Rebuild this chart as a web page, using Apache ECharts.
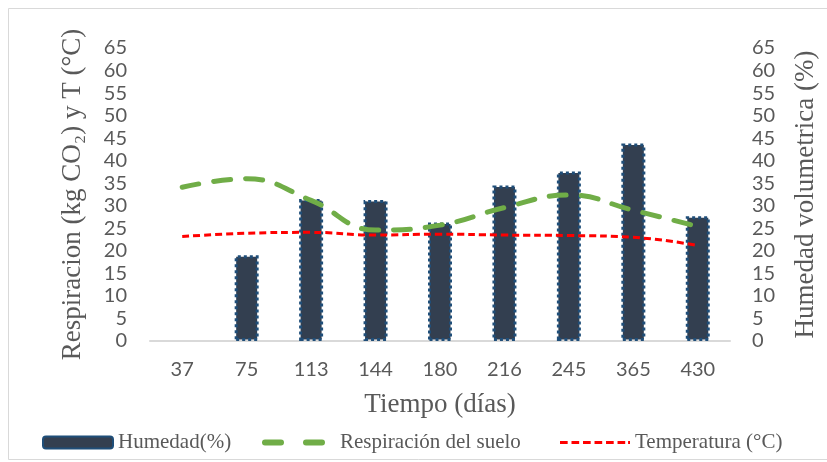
<!DOCTYPE html>
<html>
<head>
<meta charset="utf-8">
<script src="https://cdn.jsdelivr.net/npm/echarts@6/dist/echarts.min.js"></script>
<style>
  html, body { margin: 0; padding: 0; background: #ffffff; }
  #chart { width: 827px; height: 462px; }
</style>
</head>
<body>
<div id="chart"></div>
<script>
// Sampling days
const dias = ['37', '75', '113', '144', '180', '216', '245', '365', '430'];
// Volumetric soil moisture (%)
const humedad = [null, 19.0, 31.5, 31.3, 26.3, 34.5, 37.6, 43.8, 27.7];
// Soil respiration (kg CO2)
const respiracion = [34.1, 36.0, 31.2, 24.6, 25.7, 29.6, 32.4, 29.0, 25.4];
// Temperature (°C)
const temperatura = [23.2, 23.9, 24.1, 23.5, 23.7, 23.5, 23.4, 23.0, 21.2];

const gris = '#595959';
const serif = '"Liberation Serif", "Times New Roman", serif';
const sans = 'Lato, "Open Sans", sans-serif';

// Legend glyphs: two rounded dashes for respiration, short dashes for temperature
const iconVerde = 'path://M3,0H19A3,3 0 0 1 19,6H3A3,3 0 0 1 3,0Z M44,0H60A3,3 0 0 1 60,6H44A3,3 0 0 1 44,0Z';
const iconRojo = 'path://M0,0H8V3H0Z M12,0H20V3H12Z M24,0H32V3H24Z M36,0H44V3H36Z M48,0H56V3H48Z M60,0H68V3H60Z M71,0H73V3H71Z';

const chart = echarts.init(document.getElementById('chart'), null, { renderer: 'canvas' });

const yAxisBase = {
  type: 'value',
  min: 0,
  max: 65,
  interval: 5,
  axisLine: { show: false },
  axisTick: { show: false },
  splitLine: { show: false },
  nameLocation: 'middle',
  nameTextStyle: { fontFamily: serif, fontSize: 27, color: gris },
  axisLabel: { fontFamily: sans, fontSize: 20, color: gris }
};

const legendText = { fontFamily: serif, fontSize: 21, color: gris };

chart.setOption({
  animation: false,
  backgroundColor: '#ffffff',
  graphic: [{
    type: 'rect',
    shape: { x: 8.5, y: 8.5, width: 830, height: 451 },
    style: { fill: 'none', stroke: '#d9d9d9', lineWidth: 1 },
    silent: true
  }],
  grid: { left: 150, right: 97, top: 48, bottom: 121 },
  legend: [
    {
      data: ['Humedad(%)'], left: 37, top: 427, itemWidth: 70, itemHeight: 12,
      textStyle: legendText
    },
    {
      data: [{ name: 'Respiración del suelo', icon: iconVerde }],
      left: 257, top: 427, itemWidth: 63, itemHeight: 6,
      textStyle: Object.assign({}, legendText, { padding: [0, 0, 0, 10] })
    },
    {
      data: [{ name: 'Temperatura (°C)', icon: iconRojo }],
      left: 555, top: 427, itemWidth: 70, itemHeight: 3,
      textStyle: legendText
    }
  ],
  xAxis: {
    type: 'category',
    data: dias,
    name: 'Tiempo (días)',
    nameLocation: 'middle',
    nameGap: 50,
    nameTextStyle: { fontFamily: serif, fontSize: 27, color: gris },
    axisLine: { lineStyle: { color: '#d9d9d9', width: 2 } },
    axisTick: { show: false },
    axisLabel: { fontFamily: sans, fontSize: 20, color: gris, margin: 19 }
  },
  yAxis: [
    Object.assign({}, yAxisBase, {
      position: 'left',
      name: 'Respiracion (kg CO₂) y T (°C)',
      nameGap: 64,
      axisLabel: Object.assign({}, yAxisBase.axisLabel, { margin: 23 })
    }),
    Object.assign({}, yAxisBase, {
      position: 'right',
      name: 'Humedad volumetrica (%)',
      nameGap: 62,
      axisLabel: Object.assign({}, yAxisBase.axisLabel, { margin: 22 })
    })
  ],
  series: [
    {
      name: 'Humedad(%)',
      type: 'bar',
      yAxisIndex: 1,
      data: humedad,
      barWidth: 24,
      itemStyle: {
        color: '#333f50',
        borderColor: '#1f4e79',
        borderWidth: 3,
        borderType: [3, 3]
      }
    },
    {
      name: 'Respiración del suelo',
      type: 'line',
      yAxisIndex: 0,
      data: respiracion,
      smooth: 0.45,
      symbol: 'none',
      lineStyle: { color: '#70ad47', width: 5, type: [17, 15], cap: 'round' },
      itemStyle: { color: '#70ad47' }
    },
    {
      name: 'Temperatura (°C)',
      type: 'line',
      yAxisIndex: 0,
      data: temperatura,
      smooth: 0.45,
      symbol: 'none',
      lineStyle: { color: '#ff0000', width: 3, type: [7, 4] },
      itemStyle: { color: '#ff0000' }
    }
  ]
});
</script>
</body>
</html>
